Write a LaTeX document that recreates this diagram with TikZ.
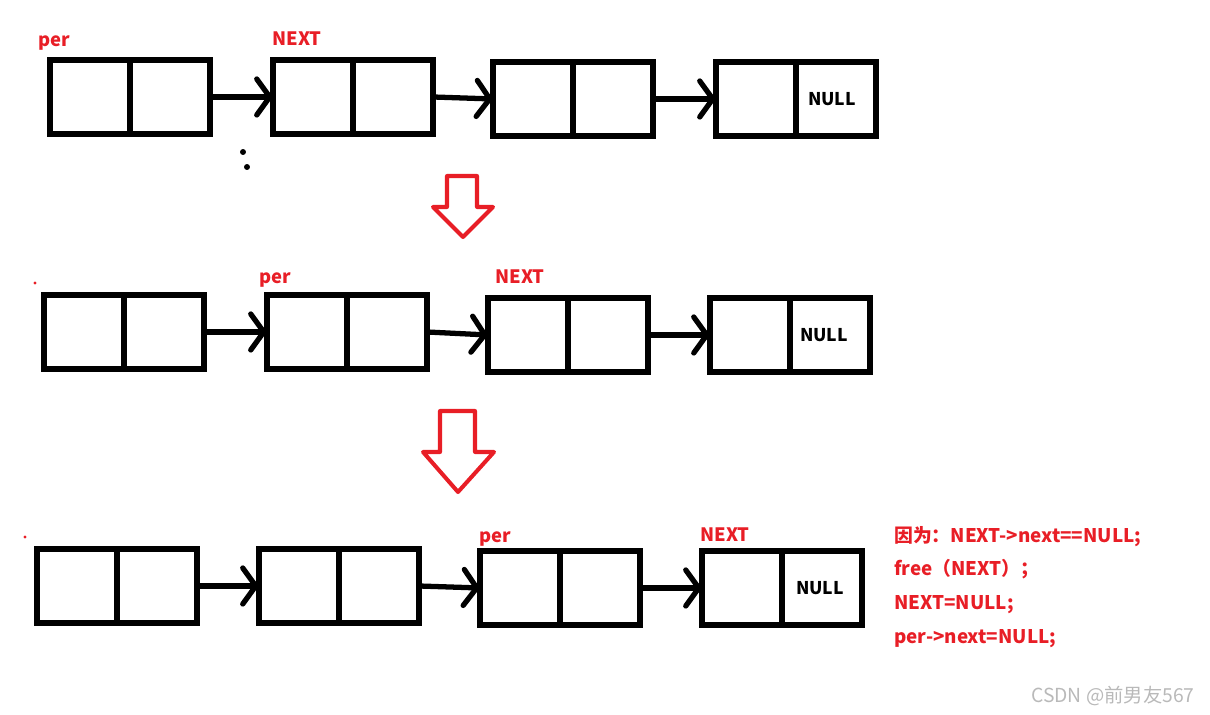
\documentclass[tikz,border=0pt]{standalone}
\usepackage{fontspec}
\setmainfont{Noto Sans CJK SC}
\usetikzlibrary{arrows.meta}
\definecolor{rouge}{RGB}{232,30,38}
\definecolor{gris}{RGB}{185,185,185}
\tikzset{
  cell/.style={draw, line width=3pt, outer sep=0pt, inner sep=0pt,
    minimum width=1.6cm, minimum height=1.48cm},
  lien/.style={line width=3pt, -{Straight Barb[length=2.6mm, width=7.2mm, line cap=round]}},
  etiq/.style={anchor=base west, inner sep=0pt, text=rouge, font=\bfseries\fontsize{10.5}{12}\selectfont},
  code/.style={anchor=base west, inner sep=0pt, text=rouge, font=\bfseries\fontsize{10.7}{13}\selectfont},
  nul/.style={inner sep=0pt, font=\bfseries\fontsize{10}{12}\selectfont},
  fleche/.style={draw=rouge, line width=2.3pt, line join=round},
}
\begin{document}
\begin{tikzpicture}[x=0.02cm, y=-0.02cm] % 1 unité = 1 pixel de l'image
  \useasboundingbox (0,0) rectangle (1210,715);

  % Cases des trois listes
  \foreach \r/\e/\x/\y in {1/1/50/60, 1/2/273/60, 1/3/493/62, 1/4/716/62,
                           2/1/44/295, 2/2/267/295, 2/3/488/298, 2/4/710/298,
                           3/1/37/549, 3/2/259/549, 3/3/480/551, 3/4/702/551} {
    \node[cell, anchor=north west] (g\r\e) at (\x,\y) {};
    \node[cell, anchor=west] (d\r\e) at (g\r\e.east) {};
  }

  % NULL
  \node[nul] (nul1) at ([xshift=-0.08cm]d14) {NULL};
  \node[nul] (nul2) at ([xshift=-0.12cm]d24) {NULL};
  \node[nul] (nul3) at ([xshift=-0.04cm]d34) {NULL};

  % Liens
  \foreach \r in {1,2,3}
    \foreach \p/\q in {1/2,2/3,3/4}
      \draw[lien] (d\r\p.east) -- (g\r\q.west);

  % Pointeurs
  \node[etiq] (per1) at (38,47) {per};
  \node[etiq] (next1) at (272,46) {NEXT};
  \node[etiq] (per2) at (259,284) {per};
  \node[etiq] (next2) at (495,284) {NEXT};
  \node[etiq] (per3) at (479,543) {per};
  \node[etiq] (next3) at (700,542) {NEXT};

  % Points parasites
  \fill (243,152) circle (1.7pt);
  \fill (247,167) circle (1.7pt);
  \fill[rouge] (35,283) circle (0.9pt);
  \fill[rouge] (25,537) circle (0.9pt);

  % Flèches vers le bas
  \draw[fleche] (447,176) -- (477,176) -- (477,207) -- (493,207) -- (463,237) -- (433,207) -- (447,207) -- cycle;
  \draw[fleche] (440,411) -- (475,411) -- (475,452) -- (494,452) -- (458,492) -- (423,452) -- (440,452) -- cycle;

  % Explication
  \node[code] (l1) at (894,543) {因为：NEXT->next==NULL;};
  \node[code] (l2) at (894,576) {free（NEXT）；};
  \node[code] (l3) at (894,610) {NEXT=NULL;};
  \node[code] (l4) at (894,643) {per->next=NULL;};

  \node[anchor=east, inner sep=0pt, text=gris, font=\fontsize{11}{13}\selectfont] (csdn) at (1195,696) {CSDN @前男友567};
\end{tikzpicture}
\end{document}
